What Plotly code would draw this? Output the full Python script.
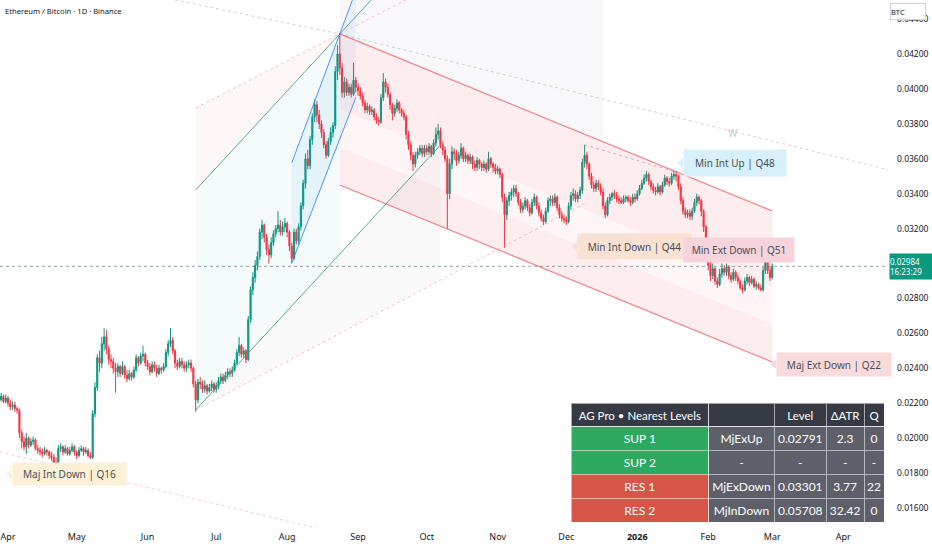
import plotly.graph_objects as go
import pandas as pd

# ---------------- DATA (ETH/BTC, Binance, 1D) ----------------
START_DATE = "2025-03-28"
first_open = 0.0224

close = [
    # Mar 28-31 2025
    0.0222, 0.0224, 0.0221, 0.0223,
    # Apr
    0.0220, 0.0218, 0.0219, 0.0217, 0.0216, 0.0203, 0.0198, 0.0195, 0.0200, 0.0196,
    0.0198, 0.0199, 0.0194, 0.0193, 0.0192, 0.0191, 0.0193, 0.0192, 0.0190, 0.0189,
    0.0186, 0.0185, 0.0194, 0.0195, 0.0192, 0.0194, 0.0191, 0.0193, 0.0195, 0.0192,
    # May
    0.0190, 0.0193, 0.0194, 0.0192, 0.0193, 0.0190, 0.0189, 0.0214, 0.0229, 0.0246,
    0.0243, 0.0254, 0.0258, 0.0251, 0.0245, 0.0244, 0.0240, 0.0238, 0.0241, 0.0237,
    0.0241, 0.0236, 0.0234, 0.0237, 0.0235, 0.0239, 0.0246, 0.0243, 0.0247, 0.0248, 0.0243,
    # Jun
    0.0241, 0.0238, 0.0242, 0.0240, 0.0237, 0.0240, 0.0239, 0.0241, 0.0249, 0.0254,
    0.0256, 0.0250, 0.0243, 0.0241, 0.0244, 0.0242, 0.0240, 0.0242, 0.0243, 0.0240,
    0.0231, 0.0222, 0.0232, 0.0231, 0.0228, 0.0230, 0.0227, 0.0229, 0.0231, 0.0228,
    # Jul
    0.0230, 0.0233, 0.0235, 0.0233, 0.0236, 0.0238, 0.0237, 0.0239, 0.0243, 0.0249,
    0.0253, 0.0248, 0.0250, 0.0245, 0.0268, 0.0285, 0.0292, 0.0299, 0.0304, 0.0318,
    0.0322, 0.0315, 0.0308, 0.0305, 0.0312, 0.0317, 0.0320, 0.0322, 0.0318, 0.0321, 0.0323,
    # Aug
    0.0318, 0.0310, 0.0303, 0.0318, 0.0313, 0.0321, 0.0333, 0.0346, 0.0360, 0.0356,
    0.0371, 0.0384, 0.0391, 0.0385, 0.0380, 0.0375, 0.0368, 0.0362, 0.0370, 0.0375,
    0.0379, 0.0410, 0.0420, 0.0412, 0.0398, 0.0404, 0.0398, 0.0401, 0.0397, 0.0405, 0.0401,
    # Sep
    0.0399, 0.0396, 0.0392, 0.0388, 0.0390, 0.0387, 0.0388, 0.0384, 0.0382, 0.0381,
    0.0395, 0.0404, 0.0401, 0.0397, 0.0391, 0.0386, 0.0389, 0.0392, 0.0388, 0.0386,
    0.0384, 0.0374, 0.0368, 0.0362, 0.0357, 0.0362, 0.0364, 0.0366, 0.0363, 0.0366,
    # Oct
    0.0364, 0.0367, 0.0363, 0.0369, 0.0374, 0.0376, 0.0368, 0.0365, 0.0360, 0.0340,
    0.0357, 0.0364, 0.0363, 0.0359, 0.0362, 0.0366, 0.0360, 0.0362, 0.0359, 0.0361,
    0.0357, 0.0355, 0.0359, 0.0357, 0.0355, 0.0357, 0.0354, 0.0360, 0.0357, 0.0355, 0.0353,
    # Nov
    0.0354, 0.0351, 0.0338, 0.0328, 0.0336, 0.0339, 0.0341, 0.0343, 0.0340, 0.0335,
    0.0331, 0.0333, 0.0336, 0.0332, 0.0329, 0.0335, 0.0338, 0.0333, 0.0329, 0.0326,
    0.0324, 0.0330, 0.0336, 0.0337, 0.0335, 0.0338, 0.0332, 0.0328, 0.0326, 0.0325,
    # Dec
    0.0324, 0.0333, 0.0339, 0.0340, 0.0337, 0.0339, 0.0342, 0.0358, 0.0362, 0.0357,
    0.0350, 0.0345, 0.0343, 0.0346, 0.0344, 0.0341, 0.0333, 0.0328, 0.0336, 0.0338,
    0.0340, 0.0339, 0.0337, 0.0336, 0.0335, 0.0337, 0.0338, 0.0336, 0.0335, 0.0338, 0.0337,
    # Jan 2026
    0.0340, 0.0343, 0.0346, 0.0349, 0.0351, 0.0347, 0.0344, 0.0342, 0.0341, 0.0344,
    0.0341, 0.0345, 0.0349, 0.0347, 0.0346, 0.0350, 0.0351, 0.0350, 0.0344, 0.0336,
    0.0330, 0.0328, 0.0329, 0.0327, 0.0330, 0.0335, 0.0338, 0.0336, 0.0330, 0.0321, 0.0305,
    # Feb
    0.0299, 0.0293, 0.0297, 0.0290, 0.0288, 0.0294, 0.0297, 0.0295, 0.0298, 0.0293,
    0.0291, 0.0295, 0.0292, 0.0290, 0.0286, 0.0285, 0.0290, 0.0292, 0.0289, 0.0291,
    0.0287, 0.0288, 0.0286, 0.0285, 0.0296, 0.0304, 0.0296, 0.0292,
    # Mar 1
    0.02984,
]

high = [
    0.0226, 0.0226, 0.0225, 0.0225,
    0.0224, 0.0222, 0.0221, 0.0221, 0.0218, 0.0217, 0.0205, 0.0201, 0.0203, 0.0201,
    0.0200, 0.0201, 0.0200, 0.0196, 0.0195, 0.0194, 0.0195, 0.0194, 0.0193, 0.0192,
    0.0191, 0.0189, 0.0196, 0.0197, 0.0196, 0.0196, 0.0195, 0.0195, 0.0197, 0.0196,
    0.0193, 0.0195, 0.0196, 0.0195, 0.0195, 0.0194, 0.0192, 0.0216, 0.0232, 0.0248,
    0.0250, 0.0258, 0.0263, 0.0262, 0.0253, 0.0248, 0.0246, 0.0243, 0.0243, 0.0242,
    0.0244, 0.0242, 0.0239, 0.0239, 0.0238, 0.0241, 0.0248, 0.0247, 0.0249, 0.0253, 0.0249,
    0.0245, 0.0243, 0.0244, 0.0244, 0.0242, 0.0242, 0.0241, 0.0243, 0.0251, 0.0256,
    0.0263, 0.0258, 0.0251, 0.0245, 0.0246, 0.0246, 0.0244, 0.0244, 0.0245, 0.0245,
    0.0241, 0.0233, 0.0234, 0.0235, 0.0233, 0.0233, 0.0231, 0.0231, 0.0233, 0.0232,
    0.0232, 0.0235, 0.0237, 0.0237, 0.0238, 0.0240, 0.0240, 0.0241, 0.0245, 0.0251,
    0.0258, 0.0254, 0.0252, 0.0251, 0.0270, 0.0287, 0.0295, 0.0302, 0.0307, 0.0320,
    0.0325, 0.0323, 0.0317, 0.0311, 0.0315, 0.0319, 0.0322, 0.0330, 0.0325, 0.0324, 0.0326,
    0.0324, 0.0319, 0.0312, 0.0320, 0.0320, 0.0323, 0.0335, 0.0348, 0.0363, 0.0365,
    0.0373, 0.0386, 0.0394, 0.0393, 0.0388, 0.0382, 0.0377, 0.0370, 0.0372, 0.0378,
    0.0381, 0.0413, 0.0425, 0.0432, 0.0415, 0.0407, 0.0406, 0.0403, 0.0403, 0.0415, 0.0407,
    0.0403, 0.0401, 0.0398, 0.0394, 0.0392, 0.0391, 0.0390, 0.0389, 0.0386, 0.0384,
    0.0397, 0.0409, 0.0406, 0.0403, 0.0398, 0.0392, 0.0391, 0.0394, 0.0393, 0.0389,
    0.0388, 0.0385, 0.0376, 0.0370, 0.0364, 0.0364, 0.0366, 0.0368, 0.0368, 0.0368,
    0.0368, 0.0369, 0.0368, 0.0371, 0.0378, 0.0380, 0.0378, 0.0370, 0.0367, 0.0362,
    0.0360, 0.0367, 0.0366, 0.0365, 0.0364, 0.0369, 0.0367, 0.0364, 0.0363, 0.0363,
    0.0362, 0.0359, 0.0361, 0.0360, 0.0358, 0.0359, 0.0358, 0.0364, 0.0361, 0.0358, 0.0357,
    0.0356, 0.0355, 0.0352, 0.0340, 0.0338, 0.0341, 0.0343, 0.0345, 0.0345, 0.0341,
    0.0337, 0.0335, 0.0338, 0.0337, 0.0334, 0.0337, 0.0340, 0.0339, 0.0335, 0.0331,
    0.0328, 0.0332, 0.0338, 0.0339, 0.0339, 0.0340, 0.0339, 0.0334, 0.0330, 0.0328,
    0.0327, 0.0335, 0.0341, 0.0343, 0.0342, 0.0341, 0.0344, 0.0360, 0.0368, 0.0364,
    0.0358, 0.0352, 0.0347, 0.0348, 0.0348, 0.0346, 0.0343, 0.0335, 0.0338, 0.0340,
    0.0341, 0.0342, 0.0341, 0.0339, 0.0338, 0.0339, 0.0339, 0.0339, 0.0338, 0.0340, 0.0340,
    0.0342, 0.0345, 0.0348, 0.0351, 0.0353, 0.0352, 0.0348, 0.0346, 0.0344, 0.0346,
    0.0345, 0.0347, 0.0351, 0.0350, 0.0349, 0.0352, 0.0353, 0.0353, 0.0351, 0.0346,
    0.0338, 0.0332, 0.0331, 0.0331, 0.0332, 0.0337, 0.0340, 0.0339, 0.0337, 0.0331, 0.0322,
    0.0307, 0.0301, 0.0300, 0.0298, 0.0292, 0.0297, 0.0300, 0.0299, 0.0300, 0.0299,
    0.0295, 0.0297, 0.0296, 0.0294, 0.0291, 0.0288, 0.0292, 0.0294, 0.0293, 0.0293,
    0.0292, 0.0290, 0.0289, 0.0288, 0.0298, 0.0307, 0.0305, 0.0298,
    0.0300,
]

low = [
    0.0220, 0.0221, 0.0220, 0.0220,
    0.0218, 0.0216, 0.0216, 0.0215, 0.0214, 0.0200, 0.0194, 0.0193, 0.0191, 0.0194,
    0.0195, 0.0196, 0.0193, 0.0191, 0.0190, 0.0189, 0.0190, 0.0190, 0.0188, 0.0187,
    0.0184, 0.0181, 0.0184, 0.0192, 0.0190, 0.0191, 0.0190, 0.0190, 0.0192, 0.0190,
    0.0188, 0.0189, 0.0192, 0.0190, 0.0191, 0.0189, 0.0188, 0.0188, 0.0212, 0.0227,
    0.0238, 0.0240, 0.0250, 0.0248, 0.0242, 0.0240, 0.0237, 0.0226, 0.0235, 0.0235,
    0.0236, 0.0234, 0.0232, 0.0233, 0.0233, 0.0234, 0.0238, 0.0241, 0.0242, 0.0244, 0.0241,
    0.0239, 0.0236, 0.0237, 0.0238, 0.0235, 0.0236, 0.0237, 0.0238, 0.0240, 0.0247,
    0.0252, 0.0248, 0.0240, 0.0239, 0.0240, 0.0240, 0.0238, 0.0238, 0.0240, 0.0238,
    0.0229, 0.0215, 0.0220, 0.0228, 0.0226, 0.0226, 0.0225, 0.0226, 0.0227, 0.0226,
    0.0226, 0.0228, 0.0231, 0.0231, 0.0232, 0.0234, 0.0235, 0.0235, 0.0238, 0.0242,
    0.0247, 0.0246, 0.0246, 0.0243, 0.0244, 0.0266, 0.0282, 0.0289, 0.0296, 0.0302,
    0.0314, 0.0312, 0.0305, 0.0300, 0.0303, 0.0310, 0.0315, 0.0318, 0.0316, 0.0316, 0.0318,
    0.0315, 0.0307, 0.0300, 0.0302, 0.0311, 0.0311, 0.0319, 0.0331, 0.0343, 0.0354,
    0.0354, 0.0368, 0.0381, 0.0381, 0.0377, 0.0372, 0.0366, 0.0360, 0.0361, 0.0368,
    0.0372, 0.0377, 0.0405, 0.0408, 0.0395, 0.0395, 0.0396, 0.0396, 0.0395, 0.0396, 0.0398,
    0.0396, 0.0394, 0.0390, 0.0386, 0.0386, 0.0385, 0.0385, 0.0382, 0.0380, 0.0379,
    0.0380, 0.0393, 0.0398, 0.0395, 0.0388, 0.0382, 0.0384, 0.0387, 0.0386, 0.0384,
    0.0382, 0.0371, 0.0365, 0.0359, 0.0353, 0.0355, 0.0360, 0.0362, 0.0361, 0.0361,
    0.0362, 0.0362, 0.0361, 0.0362, 0.0367, 0.0371, 0.0366, 0.0362, 0.0358, 0.0320,
    0.0337, 0.0354, 0.0359, 0.0356, 0.0357, 0.0360, 0.0358, 0.0358, 0.0357, 0.0357,
    0.0354, 0.0353, 0.0353, 0.0354, 0.0353, 0.0353, 0.0352, 0.0353, 0.0355, 0.0352, 0.0351,
    0.0351, 0.0349, 0.0335, 0.0309, 0.0325, 0.0333, 0.0336, 0.0338, 0.0338, 0.0333,
    0.0329, 0.0329, 0.0331, 0.0330, 0.0327, 0.0328, 0.0333, 0.0331, 0.0327, 0.0324,
    0.0322, 0.0323, 0.0329, 0.0333, 0.0333, 0.0333, 0.0330, 0.0326, 0.0324, 0.0323,
    0.0322, 0.0323, 0.0331, 0.0336, 0.0335, 0.0335, 0.0337, 0.0340, 0.0355, 0.0354,
    0.0348, 0.0343, 0.0341, 0.0341, 0.0342, 0.0339, 0.0331, 0.0326, 0.0327, 0.0334,
    0.0336, 0.0337, 0.0335, 0.0334, 0.0334, 0.0334, 0.0335, 0.0335, 0.0333, 0.0334, 0.0335,
    0.0336, 0.0339, 0.0342, 0.0345, 0.0347, 0.0345, 0.0342, 0.0340, 0.0339, 0.0340,
    0.0339, 0.0340, 0.0344, 0.0345, 0.0344, 0.0345, 0.0348, 0.0347, 0.0342, 0.0334,
    0.0328, 0.0326, 0.0326, 0.0325, 0.0325, 0.0329, 0.0333, 0.0334, 0.0327, 0.0318, 0.0302,
    0.0296, 0.0290, 0.0291, 0.0288, 0.0286, 0.0287, 0.0292, 0.0293, 0.0293, 0.0291,
    0.0289, 0.0290, 0.0290, 0.0288, 0.0285, 0.0283, 0.0284, 0.0288, 0.0287, 0.0288,
    0.0286, 0.0285, 0.0285, 0.0284, 0.0284, 0.0294, 0.0294, 0.0290,
    0.0291,
]

if not (len(close) == len(high) == len(low)):
    raise ValueError(f"length mismatch {len(close)} {len(high)} {len(low)}")

dates = pd.date_range(START_DATE, periods=len(close), freq="D")
open_ = [first_open] + close[:-1]
high = [max(h, o, c) for h, o, c in zip(high, open_, close)]
low = [min(l, o, c) for l, o, c in zip(low, open_, close)]

last_price = 0.02984
last_countdown = "16:23:29"

# axis
x_range = ["2025-03-28 12:00", "2026-04-20 14:00"]
y_range = [0.014853, 0.045093]
x_tick_vals = ["2025-04-01", "2025-05-01", "2025-06-01", "2025-07-01", "2025-08-01",
               "2025-09-01", "2025-10-01", "2025-11-01", "2025-12-01", "2026-01-01",
               "2026-02-01", "2026-03-01", "2026-04-01"]
x_tick_text = ["Apr", "May", "Jun", "Jul", "Aug", "Sep", "Oct", "Nov", "Dec",
               "<b>2026</b>", "Feb", "Mar", "Apr"]
# 0.03000 is hidden behind the last-price label in the reference
y_tick_vals = [0.016, 0.018, 0.020, 0.022, 0.024, 0.026, 0.028, 0.032,
               0.034, 0.036, 0.038, 0.040, 0.042, 0.044]

# drawing anchors (date, price)
green_upper_d = ["2025-06-22", "2025-09-10"]; green_upper_v = [0.03421, 0.04556]
green_lower_d = ["2025-06-22", "2025-10-07"]; green_lower_v = [0.02161, 0.03679]
dash_upper_d = ["2025-06-22", "2025-10-01"]; dash_upper_v = [0.03891, 0.04571]
dash_lower_d = ["2025-06-22", "2025-12-09"]; dash_lower_v = [0.02161, 0.03344]
blue_upper_d = ["2025-08-03", "2025-08-31"]; blue_upper_v = [0.03576, 0.04562]
blue_lower_d = ["2025-08-03", "2025-08-31"]; blue_lower_v = [0.03003, 0.03950]
red_upper_d = ["2025-08-24", "2026-03-01"]; red_upper_v = [0.04315, 0.03301]
red_lower_d = ["2025-08-24", "2026-03-01"]; red_lower_v = [0.03450, 0.02436]
top_dash_d = ["2025-06-13", "2025-08-24", "2026-04-21"]; top_dash_v = [0.04509, 0.04315, 0.03536]
bot_dash_d = ["2025-03-28 12:00", "2025-08-17"]; bot_dash_v = [0.01921, 0.01474]
minup_dash_d = ["2025-12-09", "2026-01-18"]; minup_dash_v = [0.03680, 0.03524]

# shaded regions (date, price polygons)
pink_wedge_d = ["2025-06-22", "2025-08-24", "2025-06-22"]
pink_wedge_v = [0.03891, 0.04315, 0.03421]
green_zone_d = ["2025-06-22", "2025-08-24", "2025-08-24", "2025-06-22"]
green_zone_v = [0.03421, 0.04315, 0.03055, 0.02161]
gray_wedge_d = ["2025-06-22", "2025-10-07", "2025-10-07"]
gray_wedge_v = [0.02161, 0.03679, 0.02906]
gray_box_d = ["2025-08-24", "2025-12-17", "2025-12-17", "2025-08-24"]
gray_box_v = [0.0460, 0.0460, 0.03698, 0.04315]
blue_zone_d = ["2025-08-03", "2025-08-31", "2025-08-31", "2025-08-03"]
blue_zone_v = [0.03576, 0.04562, 0.03950, 0.03003]

# labels: text, left date, price, width, height, background
labels = [
    ("Maj Int Down | Q16", "2025-04-02 18:00", 0.01795, 113, 22, "#fcf1d6"),
    ("Min Int Up | Q48", "2026-01-21", 0.03576, 102, 26, "#d8f0f9"),
    ("Min Int Down | Q44", "2025-12-05 17:00", 0.03098, 113, 25, "#f9e2d3"),
    ("Min Ext Down | Q51", "2026-01-21", 0.03078, 110, 24, "#f7d3db"),
    ("Maj Ext Down | Q22", "2026-03-02 17:00", 0.02422, 114, 23, "#f9dbdb"),
]

# table
NB = "\u00a0"
table_header = [f"AG{NB}Pro{NB}•{NB}Nearest{NB}Levels", "", "Level", "ΔATR", "Q"]
table_level = ["SUP 1", "SUP 2", "RES 1", "RES 2"]
table_type = ["MjExUp", "-", "MjExDown", "MjInDown"]
table_price = ["0.02791", "-", "0.03301", "0.05708"]
table_atr = ["2.3", "-", "3.77", "32.42"]
table_q = ["0", "-", "22", "0"]

# ---------------- FIGURE ----------------
FONT = "Noto Sans"
TFONT = "Lato"
fig = go.Figure()


def poly(d, v, color):
    fig.add_trace(go.Scatter(x=d + [d[0]], y=v + [v[0]], mode="lines", fill="toself",
                             fillcolor=color, line=dict(width=0), hoverinfo="skip"))


def line(d, v, color, width=1, dash=None):
    fig.add_trace(go.Scatter(x=d, y=v, mode="lines", hoverinfo="skip",
                             line=dict(color=color, width=width, dash=dash)))


poly(gray_box_d, gray_box_v, "rgba(120,123,150,0.05)")
poly(pink_wedge_d, pink_wedge_v, "rgba(242,54,69,0.04)")
poly(green_zone_d, green_zone_v, "rgba(8,153,129,0.045)")
poly(gray_wedge_d, gray_wedge_v, "rgba(120,123,134,0.045)")
poly(blue_zone_d, blue_zone_v, "rgba(33,150,243,0.07)")

# red channel bands
band_fracs = [0.0, 0.5, 0.75, 1.0]
band_colors = ["rgba(242,54,69,0.09)", "rgba(242,54,69,0.05)", "rgba(242,54,69,0.09)"]
for k in range(3):
    f0, f1 = band_fracs[k], band_fracs[k + 1]
    v0 = [u - f0 * (u - l) for u, l in zip(red_upper_v, red_lower_v)]
    v1 = [u - f1 * (u - l) for u, l in zip(red_upper_v, red_lower_v)]
    poly(red_upper_d + red_upper_d[::-1], v0 + v1[::-1], band_colors[k])

line(top_dash_d, top_dash_v, "rgba(150,150,165,0.45)", 1, "3px,3px")
line(dash_upper_d, dash_upper_v, "rgba(240,140,150,0.55)", 1, "3px,3px")
line(dash_lower_d, dash_lower_v, "rgba(240,140,150,0.55)", 1, "3px,3px")
line(bot_dash_d, bot_dash_v, "rgba(240,140,150,0.45)", 1, "3px,3px")
line(minup_dash_d, minup_dash_v, "rgba(150,150,165,0.6)", 1, "3px,3px")
line(green_upper_d, green_upper_v, "rgba(60,160,120,0.85)", 1)
line(green_lower_d, green_lower_v, "rgba(60,160,120,0.85)", 1)
line(blue_upper_d, blue_upper_v, "rgba(41,121,255,0.8)", 1)
line(blue_lower_d, blue_lower_v, "rgba(41,121,255,0.8)", 1)
line(red_upper_d, red_upper_v, "rgba(240,100,105,0.8)", 1.2)
line(red_lower_d, red_lower_v, "rgba(240,100,105,0.8)", 1.2)

# last-price dotted line
line(x_range, [last_price, last_price], "rgba(90,130,125,0.7)", 1, "dot")

# label notches
for text, d, v, w, h, bg in labels:
    t0 = pd.Timestamp(d)
    nd = [t0, t0 - pd.Timedelta(days=2.6), t0]
    nv = [v + 0.00028, v, v - 0.00028]
    poly(nd, nv, bg)

fig.add_trace(go.Candlestick(
    x=dates, open=open_, high=high, low=low, close=close,
    increasing=dict(line=dict(color="#089981", width=1), fillcolor="#089981"),
    decreasing=dict(line=dict(color="#f23645", width=1), fillcolor="#f23645"),
    whiskerwidth=0, hoverinfo="skip"))

# table
green_c, red_c, gray_c, head_c = "#2ca85f", "#d65548", "#5e6069", "#363a45"
fig.add_trace(go.Table(
    domain=dict(x=[571 / 888, 885 / 888], y=[0.004, 0.236]),
    columnwidth=[138, 66, 52, 38, 20],
    header=dict(values=table_header, fill_color=head_c, height=23, align="center",
                font=dict(family=TFONT, size=11.5, color="white"),
                line=dict(color="rgba(255,255,255,0.55)", width=1)),
    cells=dict(values=[table_level, table_type, table_price, table_atr, table_q],
               fill_color=[[green_c, green_c, red_c, red_c]] + [[gray_c] * 4] * 4,
               height=24, align="center",
               font=dict(family=TFONT, size=12, color="white"),
               line=dict(color="rgba(255,255,255,0.55)", width=1)),
))

annotations = []
for text, d, v, w, h, bg in labels:
    annotations.append(dict(x=d, y=v, xref="x", yref="y", text=text, showarrow=False,
                            xanchor="left", yanchor="middle", width=w, height=h,
                            bgcolor=bg, align="center", borderpad=0,
                            font=dict(family=FONT, size=10, color="#4a4d57")))
annotations.append(dict(x="2026-02-12", y=0.03748, xref="x", yref="y", text="W",
                        showarrow=False, font=dict(family=FONT, size=10, color="#c3c6ce")))
annotations.append(dict(x=0, y=1, xref="paper", yref="paper", xanchor="left", yanchor="middle",
                        xshift=3, yshift=-11, showarrow=False,
                        text="Ethereum / Bitcoin · 1D · Binance",
                        font=dict(family=FONT, size=7.6, color="#131722")))
annotations.append(dict(x=1, y=last_price, xref="paper", yref="y", xanchor="left",
                        yanchor="middle", xshift=1, showarrow=False, width=42, height=25,
                        bgcolor="#089981", borderpad=0, align="left",
                        text=f"{last_price:.5f}<br>{last_countdown}",
                        font=dict(family=FONT, size=8, color="white")))
annotations.append(dict(x=1, y=1, xref="paper", yref="paper", xanchor="left", yanchor="top",
                        xshift=2, yshift=-3, showarrow=False, width=34, height=15,
                        bgcolor="white", bordercolor="#d1d4dc", borderwidth=1, borderpad=0,
                        text="BTC", align="left",
                        font=dict(family=FONT, size=7.5, color="#131722")))

fig.update_layout(
    width=932, height=550, margin=dict(l=0, r=44, t=0, b=22, autoexpand=False),
    paper_bgcolor="white", plot_bgcolor="white", showlegend=False, hovermode=False,
    annotations=annotations,
    xaxis=dict(range=x_range, type="date", tickvals=x_tick_vals, ticktext=x_tick_text,
               showgrid=False, zeroline=False, showline=False, ticks="", automargin=False,
               tickfont=dict(family=FONT, size=9, color="#131722"),
               rangeslider=dict(visible=False), ticklabelstandoff=2),
    yaxis=dict(range=y_range, side="right", tickvals=y_tick_vals, tickformat=".5f",
               showgrid=False, zeroline=False, showline=False, ticks="", automargin=False,
               tickfont=dict(family=FONT, size=8.5, color="#131722"),
               ticklabelstandoff=8),
)

fig.write_html("out.html", config={"displayModeBar": False},
               post_script="document.body.style.margin='0px';")
